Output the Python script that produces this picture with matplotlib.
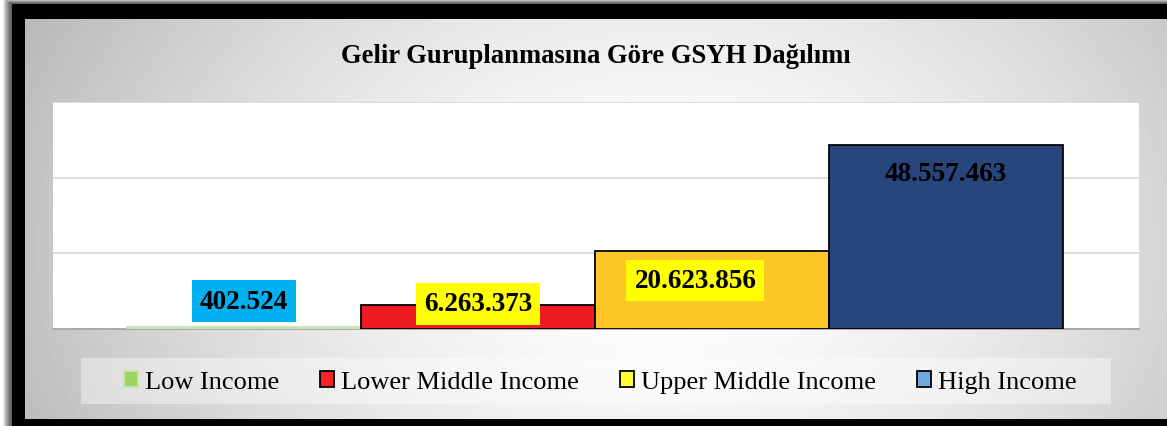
import numpy as np
import matplotlib
matplotlib.use("Agg")
import matplotlib.pyplot as plt
from matplotlib.patches import Rectangle, Patch

plt.rcParams['font.family'] = ['Liberation Serif', 'DejaVu Serif']

# veriler
kategoriler = ["Low Income", "Lower Middle Income", "Upper Middle Income", "High Income"]
gsyh = [402524, 6263373, 20623856, 48557463]
etiketler = ["402.524", "6.263.373", "20.623.856", "48.557.463"]
baslik = "Gelir Guruplanmasına Göre GSYH Dağılımı"

# stiller
bar_renkleri = ["#C9E3B0", "#F01A22", "#FDC526", "#223F7A"]
bar_kenar = ["#C9E3B0", "black", "black", "black"]
lejant_renkleri = ["#9FD465", "#F62428", "#FFFF33", "#6FA8DC"]
lejant_kenar = ["#C9E6A8", "black", "black", "black"]
etiket_kutu = ["#00B0F0", "#FFFF00", "#FFFF00", None]
etiket_kaydir = [(0, 19), (0, 1), (-12, -21), (0, -20)]  # points

W, H = 1167, 427
fig = plt.figure(figsize=(W / 100, H / 100), dpi=100)

# arka plan: golge, siyah cerceve, gri gradyan
bg = fig.add_axes([0, 0, 1, 1], zorder=-10)
bg.set_xlim(0, W)
bg.set_ylim(H, 0)
bg.axis("off")
bg.add_patch(Rectangle((0, 0), W, H, color="white"))
for i in range(12):
    g = 9 - i * 0.75
    bg.add_patch(Rectangle((12 - g, 5 - g * 0.55), W + 50, H + 50,
                           color="black", alpha=0.08, lw=0))
bg.add_patch(Rectangle((12, 5), W + 50, H + 50, color="black", lw=0))

yy, xx = np.mgrid[20:420, 25:W]
t = np.sqrt(((xx - 660) / 640.0) ** 2 + ((yy - 250) / 480.0) ** 2)
t = np.clip(t, 0, 1.1)
gri = 1 - 0.24 * t ** 1.6
bg.imshow(gri, cmap="gray", vmin=0, vmax=1, extent=(25, W, 420, 20),
          aspect="auto", interpolation="bilinear", zorder=2)
# lejant kutusu
bg.add_patch(Rectangle((81, 359), 1030, 46, color="white", alpha=0.4, lw=0, zorder=3))

fig.text(596 / W, 1 - 63 / H, baslik, ha="center", va="baseline",
         fontsize=19.2, fontweight="bold")

# grafik alani
ax = fig.add_axes([53 / W, 1 - 330 / H, (1139 - 53) / W, (330 - 103) / H])
ax.set_facecolor("white")
x = np.arange(len(gsyh))
cubuklar = ax.bar(x, gsyh, width=1.0, color=bar_renkleri, edgecolor=bar_kenar,
                  linewidth=1.3, zorder=3)
cubuklar[3].set_alpha(0.97)

ax.set_xlim(-0.5 - 74 / 234, 3.5 + 76 / 234)
ax.set_ylim(0, 60000000)
ax.set_yticks([0, 20000000, 40000000, 60000000])
ax.yaxis.grid(True, color="#D9D9D9", linewidth=1.3, zorder=0)
ax.set_axisbelow(True)
ax.tick_params(left=False, bottom=False, labelleft=False, labelbottom=False)
for s in ["top", "right", "left"]:
    ax.spines[s].set_visible(False)
ax.spines["bottom"].set_color("#A6A6A6")
ax.spines["bottom"].set_linewidth(1.3)

for i, (xi, v) in enumerate(zip(x, gsyh)):
    kutu = None
    if etiket_kutu[i] is not None:
        kutu = dict(boxstyle="square,pad=0.3", fc=etiket_kutu[i], ec="none")
    ax.annotate(etiketler[i], (xi, v), xytext=etiket_kaydir[i],
                textcoords="offset points", ha="center", va="center",
                fontsize=19.5, fontweight="bold", bbox=kutu, zorder=5)

tutamaclar = [Patch(facecolor=c, edgecolor=e, linewidth=1.3)
              for c, e in zip(lejant_renkleri, lejant_kenar)]
fig.legend(tutamaclar, kategoriler, loc="center", ncol=4,
           bbox_to_anchor=(600 / W, 1 - 383 / H), frameon=False,
           fontsize=19, handlelength=0.55, handleheight=0.55,
           handletextpad=0.25, columnspacing=1.55)

fig.savefig("out.png", dpi=100)
